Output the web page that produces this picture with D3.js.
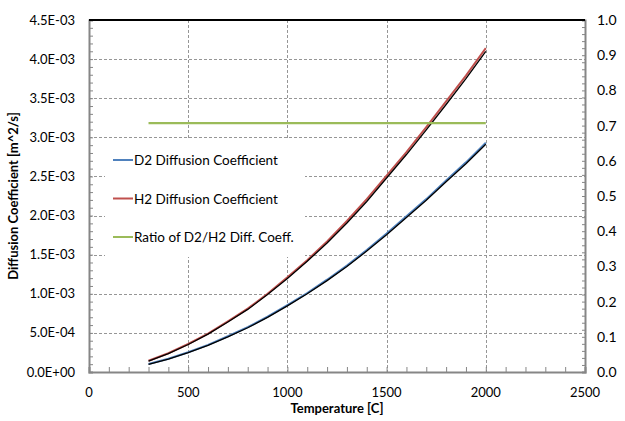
<!DOCTYPE html>
<html>
<head>
<meta charset="utf-8">
<script src="https://cdn.jsdelivr.net/npm/d3@7"></script>
<style>
  body { margin: 0; background: #fff; }
  text { font-family: Lato, "Open Sans", sans-serif; fill: #000; }
</style>
</head>
<body>
<div id="chart-area"></div>
<script>
//Data
const temps = [300, 400, 500, 600, 700, 800, 900, 1000, 1100, 1200, 1300, 1400, 1500, 1600, 1700, 1800, 1900, 2000];
const h2Coeff = [0.144e-3, 0.240e-3, 0.358e-3, 0.490e-3, 0.647e-3, 0.810e-3, 1.000e-3, 1.210e-3, 1.430e-3, 1.670e-3, 1.930e-3, 2.210e-3, 2.510e-3, 2.810e-3, 3.130e-3, 3.460e-3, 3.790e-3, 4.140e-3];
const d2Coeff = [0.102e-3, 0.170e-3, 0.253e-3, 0.347e-3, 0.457e-3, 0.573e-3, 0.707e-3, 0.855e-3, 1.010e-3, 1.180e-3, 1.360e-3, 1.560e-3, 1.770e-3, 1.990e-3, 2.210e-3, 2.450e-3, 2.680e-3, 2.930e-3];
const h2Fit = [0.138e-3, 0.234e-3, 0.352e-3, 0.484e-3, 0.640e-3, 0.800e-3, 0.990e-3, 1.195e-3, 1.415e-3, 1.650e-3, 1.905e-3, 2.180e-3, 2.480e-3, 2.780e-3, 3.095e-3, 3.420e-3, 3.750e-3, 4.100e-3];
const d2Fit = [0.097e-3, 0.165e-3, 0.247e-3, 0.341e-3, 0.450e-3, 0.566e-3, 0.698e-3, 0.845e-3, 1.000e-3, 1.168e-3, 1.348e-3, 1.546e-3, 1.755e-3, 1.975e-3, 2.195e-3, 2.432e-3, 2.662e-3, 2.912e-3];
const ratio = [0.707, 0.707, 0.707, 0.707, 0.707, 0.707, 0.707, 0.707, 0.707, 0.707, 0.707, 0.707, 0.707, 0.707, 0.707, 0.707, 0.707, 0.707];

const xTicks = [0, 500, 1000, 1500, 2000, 2500];
const yTicks = [0, 0.5e-3, 1.0e-3, 1.5e-3, 2.0e-3, 2.5e-3, 3.0e-3, 3.5e-3, 4.0e-3, 4.5e-3];
const y2Ticks = [0, 0.1, 0.2, 0.3, 0.4, 0.5, 0.6, 0.7, 0.8, 0.9, 1.0];
const legendLabels = ["D2 Diffusion Coefficient", "H2 Diffusion Coefficient", "Ratio of D2/H2 Diff. Coeff."];
const legendColors = ["#4F81BD", "#C0504D", "#9BBB59"];

const margin = { top: 20, right: 40, bottom: 49, left: 89 };
const width = 625 - margin.left - margin.right;
const height = 421 - margin.top - margin.bottom;

const svg = d3
    .select("#chart-area")
    .append("svg")
    .attr("width", 625)
    .attr("height", 421);

const g = svg
    .append("g")
    .attr("transform", `translate(${margin.left}, ${margin.top})`);

//Scales
const xScale = d3.scaleLinear().domain([0, 2500]).range([0, width]);
const yScale = d3.scaleLinear().domain([0, 4.5e-3]).range([height, 0]);
const y2Scale = d3.scaleLinear().domain([0, 1]).range([height, 0]);

//Gridlines
const grid = g.append("g").attr("class", "grid")
    .attr("stroke", "#969696")
    .attr("stroke-dasharray", "3,2")
    .attr("stroke-width", 1);
yTicks.slice(1, -1).forEach((t) => {
    grid.append("line")
        .attr("x1", 0).attr("x2", width)
        .attr("y1", Math.round(yScale(t)) + 0.5).attr("y2", Math.round(yScale(t)) + 0.5);
});
xTicks.slice(1, -1).forEach((t) => {
    grid.append("line")
        .attr("y1", 0).attr("y2", height)
        .attr("x1", Math.round(xScale(t)) + 0.5).attr("x2", Math.round(xScale(t)) + 0.5);
});

//Axes
const minorY = d3.range(0, 4.5e-3 + 1e-9, 1e-4);
const minorX = d3.range(0, 2501, 100);
const minorY2 = d3.range(0, 1.0001, 0.02);

const yAxisCall = d3.axisRight(yScale).tickValues(minorY).tickSize(4).tickFormat("");
const xAxisCall = d3.axisTop(xScale).tickValues(minorX).tickSize(5).tickFormat("");
const y2AxisCall = d3.axisLeft(y2Scale).tickValues(minorY2).tickSize(3).tickFormat("");

const yAxis = g.append("g").attr("class", "y-axis").call(yAxisCall);
const xAxis = g.append("g").attr("class", "x-axis")
    .attr("transform", `translate(0, ${height})`).call(xAxisCall);
const y2Axis = g.append("g").attr("class", "y2-axis")
    .attr("transform", `translate(${width}, 0)`).call(y2AxisCall);

[yAxis, xAxis, y2Axis].forEach((ax) => {
    ax.select(".domain").attr("stroke", "#868686").attr("stroke-width", 2);
    ax.selectAll(".tick line").attr("stroke", "#868686");
});

//Top border
g.append("line")
    .attr("x1", 0).attr("x2", width)
    .attr("y1", 0).attr("y2", 0)
    .attr("stroke", "#000").attr("stroke-width", 2);

//Tick labels
g.selectAll(".ylab")
    .data(yTicks)
    .enter()
    .append("text")
    .attr("class", "ylab")
    .attr("x", -14)
    .attr("y", (d) => yScale(d) + 4.5)
    .attr("text-anchor", "end")
    .attr("font-size", "13px")
    .text((d) => d3.format(".1e")(d).replace("e-3", "E-03").replace("e-4", "E-04").replace("e+0", "E+00"));

g.selectAll(".xlab")
    .data(xTicks)
    .enter()
    .append("text")
    .attr("class", "xlab")
    .attr("x", (d) => xScale(d))
    .attr("y", height + 25)
    .attr("text-anchor", "middle")
    .attr("font-size", "13px")
    .text((d) => d);

g.selectAll(".y2lab")
    .data(y2Ticks)
    .enter()
    .append("text")
    .attr("class", "y2lab")
    .attr("x", width + 12)
    .attr("y", (d) => y2Scale(d) + 5)
    .attr("text-anchor", "start")
    .attr("font-size", "14px")
    .text((d) => d3.format(".1f")(d));

//Axis titles
g.append("text")
    .attr("x", width / 2)
    .attr("y", height + 41)
    .attr("text-anchor", "middle")
    .attr("font-size", "13px")
    .attr("font-weight", "bold")
    .text("Temperature [C]");

g.append("text")
    .attr("x", -height / 2)
    .attr("y", -71)
    .attr("transform", "rotate(-90)")
    .attr("text-anchor", "middle")
    .attr("font-size", "13px")
    .attr("font-weight", "bold")
    .text("Diffusion Coefficient [m^2/s]");

//Lines
const line = (yS) => d3.line()
    .x((d) => xScale(d[0]))
    .y((d) => yS(d[1]));

const series = [
    { values: d2Coeff, color: legendColors[0], scale: yScale, w: 2 },
    { values: d2Fit, color: "#000", scale: yScale, w: 1.3 },
    { values: h2Coeff, color: legendColors[1], scale: yScale, w: 2 },
    { values: h2Fit, color: "#000", scale: yScale, w: 1.3 },
    { values: ratio, color: legendColors[2], scale: y2Scale, w: 2.2 },
];
series.forEach((s) => {
    g.append("path")
        .datum(temps.map((t, i) => [t, s.values[i]]))
        .attr("fill", "none")
        .attr("stroke", s.color)
        .attr("stroke-width", s.w)
        .attr("d", line(s.scale));
});

//Legend
const legend = g.append("g")
    .attr("class", "legend")
    .attr("transform", "translate(16, 120)");
legend.append("rect")
    .attr("width", 200)
    .attr("height", 117)
    .attr("fill", "#fff");
legendLabels.forEach((label, i) => {
    const row = legend.append("g")
        .attr("transform", `translate(8, ${20 + 38.5 * i})`);
    row.append("line")
        .attr("x1", 0).attr("x2", 20)
        .attr("y1", 0).attr("y2", 0)
        .attr("stroke", legendColors[i])
        .attr("stroke-width", 2);
    row.append("text")
        .attr("x", 21)
        .attr("y", 5)
        .attr("font-size", "13.5px")
        .text(label);
});
</script>
</body>
</html>
